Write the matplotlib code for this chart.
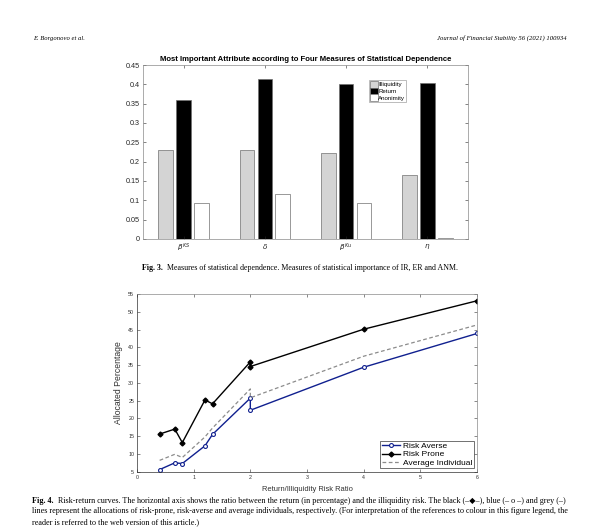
import matplotlib.pyplot as plt

# bar chart data (Fig. 3)
measures = [r'$\beta^{KS}$', r'$\delta$', r'$\beta^{Ku}$', r'$\eta$']
illiquidity = [0.230, 0.230, 0.222, 0.165]
ret = [0.360, 0.413, 0.402, 0.403]
anonimity = [0.094, 0.116, 0.094, 0.002]
bar_yticks = [0, 0.05, 0.1, 0.15, 0.2, 0.25, 0.3, 0.35, 0.4, 0.45]
bar_ylabels = ['0', '0.05', '0.1', '0.15', '0.2', '0.25', '0.3', '0.35', '0.4', '0.45']

# risk-return curves (Fig. 4)
ratio = [0.4, 0.667, 0.8, 1.2, 1.333, 2, 2, 4, 6]
risk_averse = [5.6, 7.5, 7.3, 12.3, 15.5, 25.7, 22.3, 34.4, 43.9]
risk_prone = [15.6, 17.0, 13.2, 25.2, 24.1, 35.9, 34.6, 45.1, 53.1]
average = [8.2, 9.9, 9.0, 14.8, 17.3, 28.3, 25.8, 37.5, 46.3]

plt.rcParams['font.family'] = ['Liberation Sans', 'DejaVu Sans']
fig = plt.figure(figsize=(6, 5.32), dpi=100)

serif = ['Liberation Serif', 'DejaVu Sans']
fig.text(0.055, 0.925, 'E. Borgonovo et al.', family=serif, style='italic', fontsize=4.8)
fig.text(0.945, 0.925, 'Journal of Financial Stability 56 (2021) 100934', family=serif,
         style='italic', fontsize=4.8, ha='right')

# ---- top chart
ax1 = fig.add_axes([0.2383, 0.5508, 0.5417, 0.327])
pos = range(1, len(measures) + 1)
w = 0.18
ax1.bar([p - 0.22 for p in pos], illiquidity, w, color='#d4d4d4', edgecolor='#707070', lw=0.5, label='Illiquidity')
ax1.bar(list(pos), ret, w, color='black', edgecolor='#707070', lw=0.5, label='Return')
ax1.bar([p + 0.22 for p in pos], anonimity, w, color='white', edgecolor='#707070', lw=0.5, label='Anonimity')
ax1.set_xlim(0.5, 4.5)
ax1.set_ylim(0, 0.45)
ax1.set_yticks(bar_yticks, bar_ylabels)
ax1.set_xticks(list(pos), measures)
ax1.tick_params(direction='in', length=2, width=0.4, labelsize=5.2, top=True, right=True, colors='#262626', pad=2)
for s in ax1.spines.values():
    s.set_linewidth(0.5)
    s.set_color('#8a8a8a')
ax1.set_title('Most Important Attribute according to Four Measures of Statistical Dependence',
              fontsize=5.6, fontweight='bold', pad=3)
leg1 = ax1.legend(loc='upper left', bbox_to_anchor=(0.695, 0.915), fontsize=4.4, frameon=True, fancybox=False,
                  edgecolor='#8a8a8a', handlelength=1.3, handleheight=1.35, handletextpad=0.1,
                  borderpad=0.15, labelspacing=0.0, borderaxespad=0)
leg1.get_frame().set_linewidth(0.5)

fig.text(0.237, 0.492, 'Fig. 3.', family=serif, fontweight='bold', fontsize=5.65)
fig.text(0.278, 0.492, 'Measures of statistical dependence. Measures of statistical importance of IR, ER and ANM.',
         family=serif, fontsize=5.65)

# ---- bottom chart
ax2 = fig.add_axes([0.2283, 0.1133, 0.5667, 0.334])
ax2.plot(ratio, risk_averse, color='#10208f', lw=1.0, marker='o', ms=2.8, mfc='white', mew=0.8, label='Risk Averse')
ax2.plot(ratio, risk_prone, color='black', lw=1.0, marker='D', ms=2.5, label='Risk Prone')
ax2.plot(ratio, average, color='#8c8c8c', lw=0.9, ls='--', dashes=(3, 2), label='Average Individual')
ax2.set_xlim(0, 6)
ax2.set_ylim(5, 55)
ax2.set_xticks(range(0, 7))
ax2.set_yticks(range(5, 56, 5))
ax2.tick_params(direction='in', length=2, width=0.4, labelsize=3.8, top=True, right=True, colors='#303030', pad=2)
for s in ax2.spines.values():
    s.set_linewidth(0.5)
    s.set_color('#8a8a8a')
ax2.spines['left'].set_color('#303030')
ax2.spines['bottom'].set_color('#303030')
ax2.set_ylabel('Allocated Percentage', fontsize=6.2, color='#303030', labelpad=3.5)
ax2.set_xlabel('Return/Illiquidity Risk Ratio', fontsize=5.4, color='#303030', labelpad=5)
leg2 = ax2.legend(loc='lower right', fontsize=6.0, frameon=True, fancybox=False, edgecolor='#303030',
                  handlelength=2.2, handletextpad=0.3, borderpad=0.2, labelspacing=0.05, borderaxespad=0.4)
leg2.get_frame().set_linewidth(0.6)

cap = 5.85
fig.text(0.054, 0.055, 'Fig. 4.', family=serif, fontweight='bold', fontsize=cap)
fig.text(0.097, 0.055, 'Risk-return curves. The horizontal axis shows the ratio between the return (in percentage) '
         'and the illiquidity risk. The black (–◆–), blue (– o –) and grey (–)', family=serif, fontsize=cap)
fig.text(0.054, 0.035, 'lines represent the allocations of risk-prone, risk-averse and average individuals, '
         'respectively. (For interpretation of the references to colour in this figure legend, the',
         family=serif, fontsize=cap)
fig.text(0.054, 0.015, 'reader is referred to the web version of this article.)', family=serif, fontsize=cap)

fig.savefig('out.png', dpi=100)
